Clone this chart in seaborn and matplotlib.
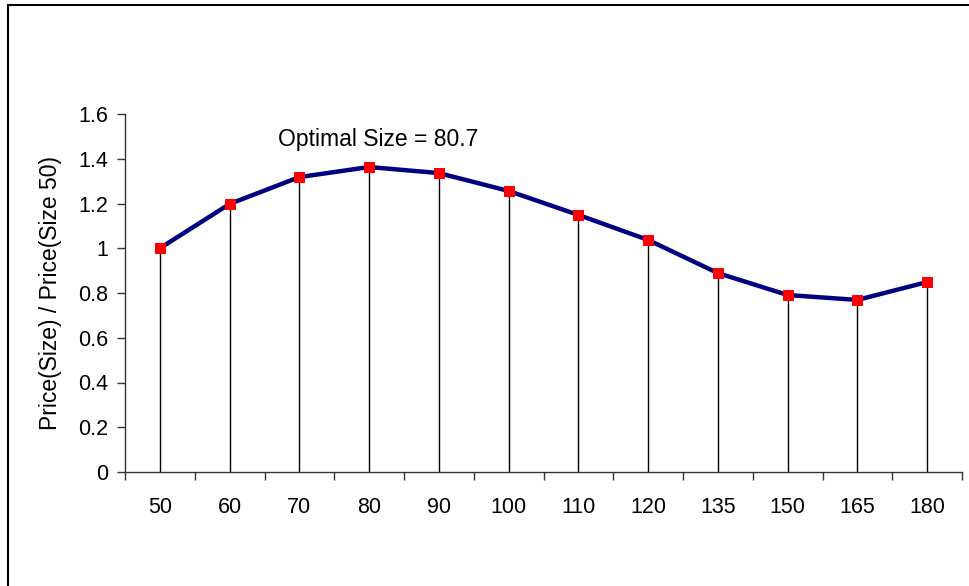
import matplotlib
matplotlib.use("Agg")
import matplotlib.pyplot as plt
import seaborn as sns
import pandas as pd
import numpy as np
from matplotlib.patches import Rectangle

sizes = ["50", "60", "70", "80", "90", "100", "110", "120", "135", "150", "165", "180"]
ratio = [1.0, 1.198, 1.318, 1.363, 1.336, 1.256, 1.149, 1.037, 0.889, 0.791, 0.769, 0.849]
y_ticks = [0, 0.2, 0.4, 0.6, 0.8, 1, 1.2, 1.4, 1.6]
y_tick_labels = ["0", "0.2", "0.4", "0.6", "0.8", "1", "1.2", "1.4", "1.6"]
annotation = "Optimal Size = 80.7"

sns.set_style("white")
plt.rcParams['font.family'] = ['Liberation Sans', 'DejaVu Sans']
plt.rcParams['text.color'] = 'black'
plt.rcParams['axes.labelcolor'] = 'black'
plt.rcParams['xtick.color'] = 'black'
plt.rcParams['ytick.color'] = 'black'

df = pd.DataFrame({"pos": np.arange(len(sizes)), "ratio": ratio})

fig = plt.figure(figsize=(9.69, 5.86), dpi=100)
ax = fig.add_axes([125/969, 1-472/586, (962-125)/969, (472-114)/586])

ax.vlines(df["pos"], 0, df["ratio"], color="black", linewidth=1.0, zorder=2)
sns.lineplot(data=df, x="pos", y="ratio", ax=ax, color="#000080", linewidth=3.2,
             marker="s", markersize=7, markerfacecolor="#ff0000",
             markeredgecolor="#ff0000", zorder=3)

ax.set_xlim(-0.5, len(sizes) - 0.5)
ax.set_ylim(0, 1.6)
ax.set_yticks(y_ticks)
ax.set_yticklabels(y_tick_labels)
ax.set_xticks(np.arange(len(sizes)))
ax.set_xticklabels(sizes)
ax.set_xticks(np.arange(len(sizes) + 1) - 0.5, minor=True)
ax.tick_params(axis="x", which="major", bottom=False, length=0, pad=18, labelsize=15.5)
ax.tick_params(axis="x", which="minor", bottom=True, length=6, direction="out", width=1, color="#333333")
ax.tick_params(axis="y", which="major", left=True, length=6, direction="out", width=1, color="#333333",
               labelsize=15.5, pad=6)
ax.set_xlabel("")
ax.set_ylabel("Price(Size) / Price(Size 50)", fontsize=16.5, labelpad=12)

for s in ["top", "right"]:
    ax.spines[s].set_visible(False)
for s in ["left", "bottom"]:
    ax.spines[s].set_color("#333333")
    ax.spines[s].set_linewidth(1)

ax.text(3.13, 1.484, annotation, ha="center", va="center", fontsize=16.5)

fig.patches.append(Rectangle((8/969, -0.1), 1.2, 1 - 5/586 + 0.1, transform=fig.transFigure,
                             fill=False, edgecolor="black", linewidth=1.5))

fig.savefig("out.png", dpi=100)
